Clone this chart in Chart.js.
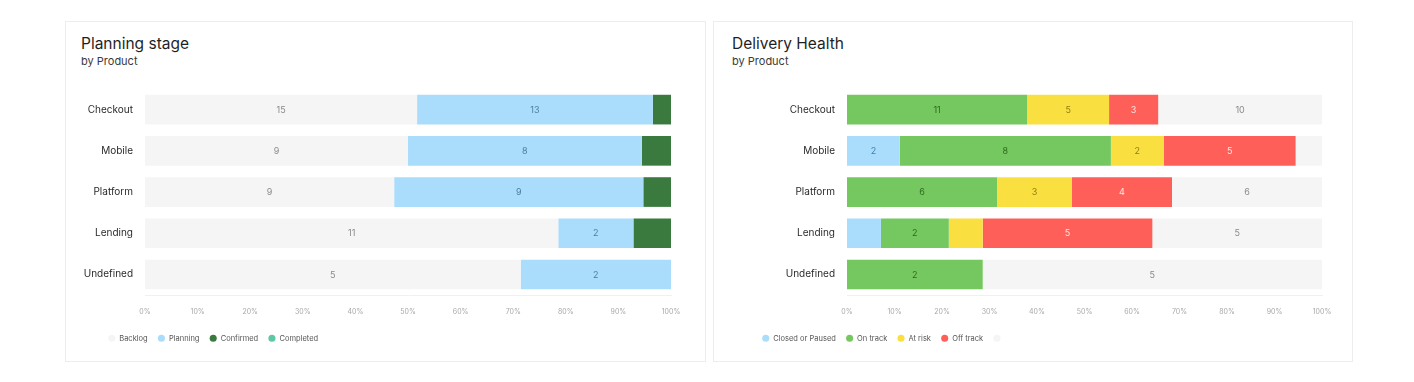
<!DOCTYPE html>
<html>
<head>
<meta charset="utf-8">
<script src="https://cdn.jsdelivr.net/npm/chart.js@4.4.1/dist/chart.umd.min.js"></script>
<style>
  html, body { margin: 0; padding: 0; background: #ffffff; width: 1414px; height: 382px; overflow: hidden; font-family: Inter, "Noto Sans", sans-serif; }
  .card { position: absolute; top: 21px; height: 341px; background: #fff; border: 1px solid #ededed; box-sizing: border-box; }
  .title { position: absolute; font-size: 15.5px; line-height: 20px; color: #1f1f1f; font-weight: 400; }
  .sub { position: absolute; font-size: 11px; line-height: 14px; color: #3a3a3a; }
  .cv { position: absolute; top: 71px; width: 640px; height: 292px; }
</style>
</head>
<body>
<div class="card" style="left:65px;width:641px;"></div>
<div class="card" style="left:713px;width:640px;"></div>
<div class="title" style="left:81px;top:34px;">Planning stage</div>
<div class="sub" style="left:81px;top:54px;">by Product</div>
<div class="title" style="left:732px;top:34px;">Delivery Health</div>
<div class="sub" style="left:732px;top:54px;">by Product</div>
<div class="cv" style="left:65px;"><canvas id="c1" width="640" height="292"></canvas></div>
<div class="cv" style="left:713px;"><canvas id="c2" width="640" height="292"></canvas></div>
<script>
// ---------- data ----------
const products = ["Checkout", "Mobile", "Platform", "Lending", "Undefined"];
const xTickLabels = ["0%", "10%", "20%", "30%", "40%", "50%", "60%", "70%", "80%", "90%", "100%"];

// Planning stage (counts)
const backlog   = [15, 9, 9, 11, 5];
const planning  = [13, 8, 9, 2, 2];
const confirmed = [1, 1, 1, 1, 0];
const completed = [0, 0, 0, 0, 0];

// Delivery Health (counts)
const closedPaused = [0, 2, 0, 1, 0];
const onTrack      = [11, 8, 6, 2, 2];
const atRisk       = [5, 2, 3, 1, 0];
const offTrack     = [3, 5, 4, 5, 0];
const noStatus     = [10, 1, 6, 5, 5];

// ---------- helpers ----------
function toPct(seriesList) {
  const totals = products.map((_, i) => seriesList.reduce((s, a) => s + a[i], 0));
  return seriesList.map(a => a.map((v, i) => totals[i] ? v / totals[i] * 100 : 0));
}

const labelPlugin = {
  id: 'segLabels',
  afterLayout(chart, args, opts) {
    const lg = chart.legend;
    if (lg) {
      lg.left = opts.legendLeft;
      lg.top -= 5;
      lg.bottom -= 5;
    }
  },
  afterDatasetsDraw(chart) {
    const ctx = chart.ctx;
    ctx.save();
    ctx.font = '9px Inter, "Noto Sans", sans-serif';
    ctx.textAlign = 'center';
    ctx.textBaseline = 'middle';
    chart.data.datasets.forEach((ds, di) => {
      const meta = chart.getDatasetMeta(di);
      if (meta.hidden) return;
      meta.data.forEach((el, i) => {
        const raw = ds.raw[i];
        if (!raw) return;
        const w = Math.abs(el.x - el.base);
        if (w < 40) return;
        ctx.fillStyle = ds.labelColor;
        ctx.fillText(String(raw), (el.x + el.base) / 2, el.y + 0.5);
      });
    });
    ctx.restore();
  }
};

function makeChart(id, seriesDefs, legendLeft, yWidth, padRight) {
  const pct = toPct(seriesDefs.map(s => s.data));
  const datasets = seriesDefs.map((s, k) => ({
    label: s.label,
    data: pct[k],
    raw: s.data,
    backgroundColor: s.color,
    labelColor: s.labelColor,
    borderWidth: 0,
    barPercentage: 0.72,
    categoryPercentage: 1.0,
    pointStyle: 'circle'
  }));
  return new Chart(document.getElementById(id), {
    type: 'bar',
    data: { labels: products, datasets },
    plugins: [labelPlugin],
    options: {
      indexAxis: 'y',
      responsive: false,
      animation: false,
      layout: { padding: { left: 0, right: padRight, top: 0, bottom: 6 } },
      plugins: {
        segLabels: { legendLeft },
        tooltip: { enabled: false },
        legend: {
          position: 'bottom',
          align: 'start',
          labels: {
            usePointStyle: true,
            pointStyle: 'circle',
            boxWidth: 8,
            boxHeight: 5,
            padding: 10,
            color: '#555',
            font: { family: 'Inter, "Noto Sans", sans-serif', size: 7.5 }
          }
        }
      },
      scales: {
        x: {
          stacked: true,
          min: 0, max: 100,
          grid: { display: false, drawTicks: false },
          border: { display: true, color: '#f0f0f0' },
          ticks: {
            stepSize: 10,
            padding: 13,
            color: '#a8a8a8',
            font: { family: 'Inter, "Noto Sans", sans-serif', size: 7 },
            callback: (v) => xTickLabels[Math.round(v / 10)]
          }
        },
        y: {
          stacked: true,
          grid: { display: false, drawTicks: false },
          border: { display: false },
          afterFit: (s) => { s.width = yWidth; },
          ticks: {
            padding: 12,
            color: '#2b2b2b',
            font: { family: 'Inter, "Noto Sans", sans-serif', size: 10 }
          }
        }
      }
    }
  });
}

makeChart('c1', [
  { label: 'Backlog',   data: backlog,   color: '#f5f5f5', labelColor: '#8a8a8a' },
  { label: 'Planning',  data: planning,  color: '#aaddfb', labelColor: '#4f7e9e' },
  { label: 'Confirmed', data: confirmed, color: '#3b7a3f', labelColor: '#e6f0e6' },
  { label: 'Completed', data: completed, color: '#5ec7a6', labelColor: '#2d6b5a' }
], 33, 80, 34);

makeChart('c2', [
  { label: 'Closed or Paused', data: closedPaused, color: '#aaddfb', labelColor: '#3f7fae' },
  { label: 'On track',         data: onTrack,      color: '#75c85f', labelColor: '#2f6a20' },
  { label: 'At risk',          data: atRisk,       color: '#f9e040', labelColor: '#8f7f10' },
  { label: 'Off track',        data: offTrack,     color: '#fe5f58', labelColor: '#ffe6e4' },
  { label: '',                 data: noStatus,     color: '#f5f5f5', labelColor: '#8a8a8a' }
], 39, 134, 31);
</script>
</body>
</html>
